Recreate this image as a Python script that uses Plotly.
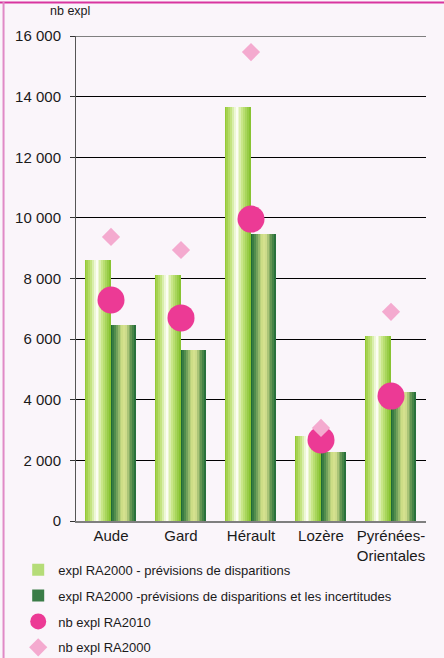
import plotly.graph_objects as go

# Données
departements = ["Aude", "Gard", "Hérault", "Lozère", "Pyrénées-<br>Orientales"]
prev_disparitions = [8600, 8120, 13660, 2800, 6100]
prev_incertitudes = [6470, 5640, 9470, 2280, 4260]
nb_ra2010 = [7290, 6700, 9960, 2670, 4120]
nb_ra2000 = [9370, 8940, 15470, 3070, 6900]

y_ticks = [0, 2000, 4000, 6000, 8000, 10000, 12000, 14000, 16000]

# Dégradés horizontaux des barres (simulés par des bandes)
light_stops = [(0.0, (140, 196, 40)), (0.25, (196, 228, 128)), (0.45, (255, 255, 250)),
               (0.7, (196, 228, 128)), (1.0, (128, 190, 40))]
dark_stops = [(0.0, (18, 98, 50)), (0.2, (90, 146, 80)), (0.42, (200, 218, 130)),
              (0.58, (218, 228, 146)), (0.8, (110, 156, 86)), (1.0, (26, 104, 54))]


def interp(stops, t):
    for (p0, c0), (p1, c1) in zip(stops[:-1], stops[1:]):
        if p0 <= t <= p1:
            f = (t - p0) / (p1 - p0)
            c = [round(a + (b - a) * f) for a, b in zip(c0, c1)]
            return "rgb({},{},{})".format(*c)
    return "rgb({},{},{})".format(*stops[-1][1])


def add_gradient_bar(fig, values, stops, start, width, name, legend_color, n=14):
    step = width / n
    for i in range(n):
        t = (i + 0.5) / n
        fig.add_trace(go.Bar(
            x=departements,
            y=values,
            offset=start + i * step,
            width=step * 1.02,
            marker=dict(color=interp(stops, t), line=dict(width=0)),
            name=name,
            legendgroup=name,
            showlegend=False,
            hoverinfo="skip",
        ))
    # entrée de légende
    fig.add_trace(go.Bar(
        x=[None], y=[None], name=name, legendgroup=name,
        marker=dict(color=legend_color, line=dict(width=0)),
    ))


fig = go.Figure()

add_gradient_bar(fig, prev_disparitions, light_stops, -0.37, 0.37,
                 "expl RA2000 - prévisions de disparitions", "#b5dc78")
add_gradient_bar(fig, prev_incertitudes, dark_stops, 0.0, 0.36,
                 "expl RA2000 -prévisions de disparitions et les incertitudes", "#3a7c47")

fig.add_trace(go.Scatter(
    x=departements, y=nb_ra2010, mode="markers", name="nb expl RA2010",
    legendgroup="c", marker=dict(symbol="circle", size=27, color="#ec3a95"),
))
fig.add_trace(go.Scatter(
    x=departements, y=nb_ra2000, mode="markers", name="nb expl RA2000",
    legendgroup="d", marker=dict(symbol="diamond", size=14, color="#f4aacf"),
))

fig.update_layout(
    width=444,
    height=658,
    margin=dict(l=76, r=18, t=36, b=137, autoexpand=False),
    paper_bgcolor="#faf5fa",
    plot_bgcolor="#faf5fa",
    barmode="overlay",
    bargap=0,
    separators=", ",
    font=dict(family="Liberation Sans, Arial, sans-serif", color="#1a1a1a"),
    showlegend=True,
    legend=dict(
        xref="container", yref="container",
        x=0.041, y=0.157, xanchor="left", yanchor="top",
        orientation="v", traceorder="grouped", tracegroupgap=6,
        font=dict(size=13), bgcolor="rgba(0,0,0,0)", itemwidth=30,
    ),
    xaxis=dict(
        showline=True, linecolor="#7f7f7f", linewidth=2, automargin=False,
        ticks="", tickfont=dict(size=15), showgrid=False,
    ),
    yaxis=dict(
        range=[0, 16000], tickvals=y_ticks, tickformat=",d", automargin=False,
        showgrid=True, gridcolor="#000000", gridwidth=1,
        zeroline=False,
        showline=True, linecolor="#555555", linewidth=1,
        ticks="outside", ticklen=5, tickcolor="#333333",
        tickfont=dict(size=15), ticklabelstandoff=6,
    ),
    annotations=[dict(
        text="nb expl", xref="paper", yref="paper", x=-0.017, y=1.0,
        yshift=16, xanchor="center", yanchor="bottom", showarrow=False,
        font=dict(size=12.5),
    )],
    shapes=[
        dict(type="line", xref="paper", yref="y", x0=0, x1=1, y0=16000, y1=16000,
             line=dict(color="#7f7f7f", width=2), layer="between"),
        dict(type="line", xref="paper", yref="paper", x0=-0.22, x1=1.06, y0=1.069, y1=1.069,
             line=dict(color="#d8359f", width=2)),
        dict(type="line", xref="paper", yref="paper", x0=-0.207, x1=-0.207, y0=-0.29, y1=1.07,
             line=dict(color="#e08ac6", width=2)),
    ],
)

# la page HTML ajoute une marge de 8 px autour du graphique : on la retire
fig.write_html("out.html", config={"displayModeBar": False},
               post_script="document.body.style.margin='0';")
